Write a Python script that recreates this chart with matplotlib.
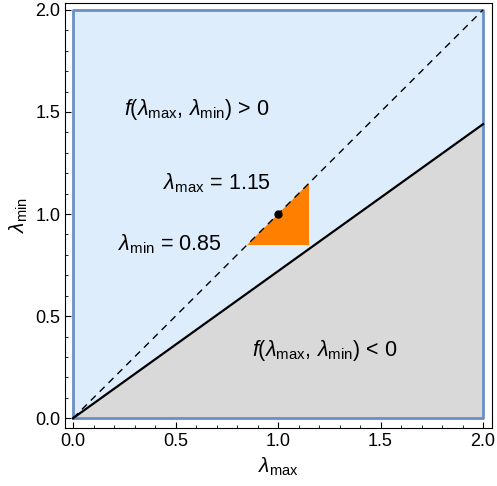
import matplotlib.pyplot as plt
import numpy as np

plt.rcParams['font.family'] = ['Liberation Sans', 'DejaVu Sans']
plt.rcParams['mathtext.fontset'] = 'custom'
plt.rcParams['mathtext.rm'] = 'Liberation Sans'
plt.rcParams['mathtext.it'] = 'Liberation Sans:italic'

# data
lim = [0.0, 2.0]
slope = 0.72          # boundary f = 0
lam_lo = 0.85
lam_hi = 1.15
point = [1.0, 1.0]
ticks = [0.0, 0.5, 1.0, 1.5, 2.0]

fig = plt.figure(figsize=(4.97, 4.86), dpi=100)
ax = fig.add_axes([0.131, 0.119, 0.859, 0.875])

xs = np.array(lim)
ax.fill_between(xs, slope * xs, lim[1], color='#ddedfc', lw=0)
ax.fill_between(xs, lim[0], slope * xs, color='#d9d9d9', lw=0)
ax.plot([lim[0], lim[1], lim[1], lim[0], lim[0]], [lim[0], lim[0], lim[1], lim[1], lim[0]],
        color='#6b8ec6', lw=2, zorder=3)
ax.plot(xs, xs, 'k--', lw=1, dashes=(5, 4), zorder=4)
ax.plot(xs, slope * xs, 'k-', lw=1.6, zorder=4)
ax.fill([lam_lo, lam_hi, lam_hi], [lam_lo, lam_lo, lam_hi], color='#ff8000', lw=0, zorder=3)
ax.plot(point[0], point[1], 'ko', ms=5, zorder=5)

fs = 15.5
ax.text(0.605, 1.51, r'$f(\lambda_{\mathrm{max}},\, \lambda_{\mathrm{min}})$ > 0', fontsize=fs, ha='center', va='center')
ax.text(1.23, 0.33, r'$f(\lambda_{\mathrm{max}},\, \lambda_{\mathrm{min}})$ < 0', fontsize=fs, ha='center', va='center')
ax.text(0.70, 1.15, r'$\lambda_{\mathrm{max}}$ = 1.15', fontsize=fs, ha='center', va='center')
ax.text(0.47, 0.85, r'$\lambda_{\mathrm{min}}$ = 0.85', fontsize=fs, ha='center', va='center')

ax.set_xlim(-0.039, 2.044)
ax.set_ylim(-0.049, 2.034)
ax.set_xticks(ticks)
ax.set_yticks(ticks)
ax.set_xticks(np.arange(0, 2.01, 0.1), minor=True)
ax.set_yticks(np.arange(0, 2.01, 0.1), minor=True)
ax.tick_params(direction='in', labelsize=13, length=4, width=0.8)
ax.tick_params(which='minor', direction='in', length=2, width=0.6)
ax.set_xlabel(r'$\lambda_{\mathrm{max}}$', fontsize=15)
ax.set_ylabel(r'$\lambda_{\mathrm{min}}$', fontsize=15)

fig.savefig('out.png', dpi=100)
